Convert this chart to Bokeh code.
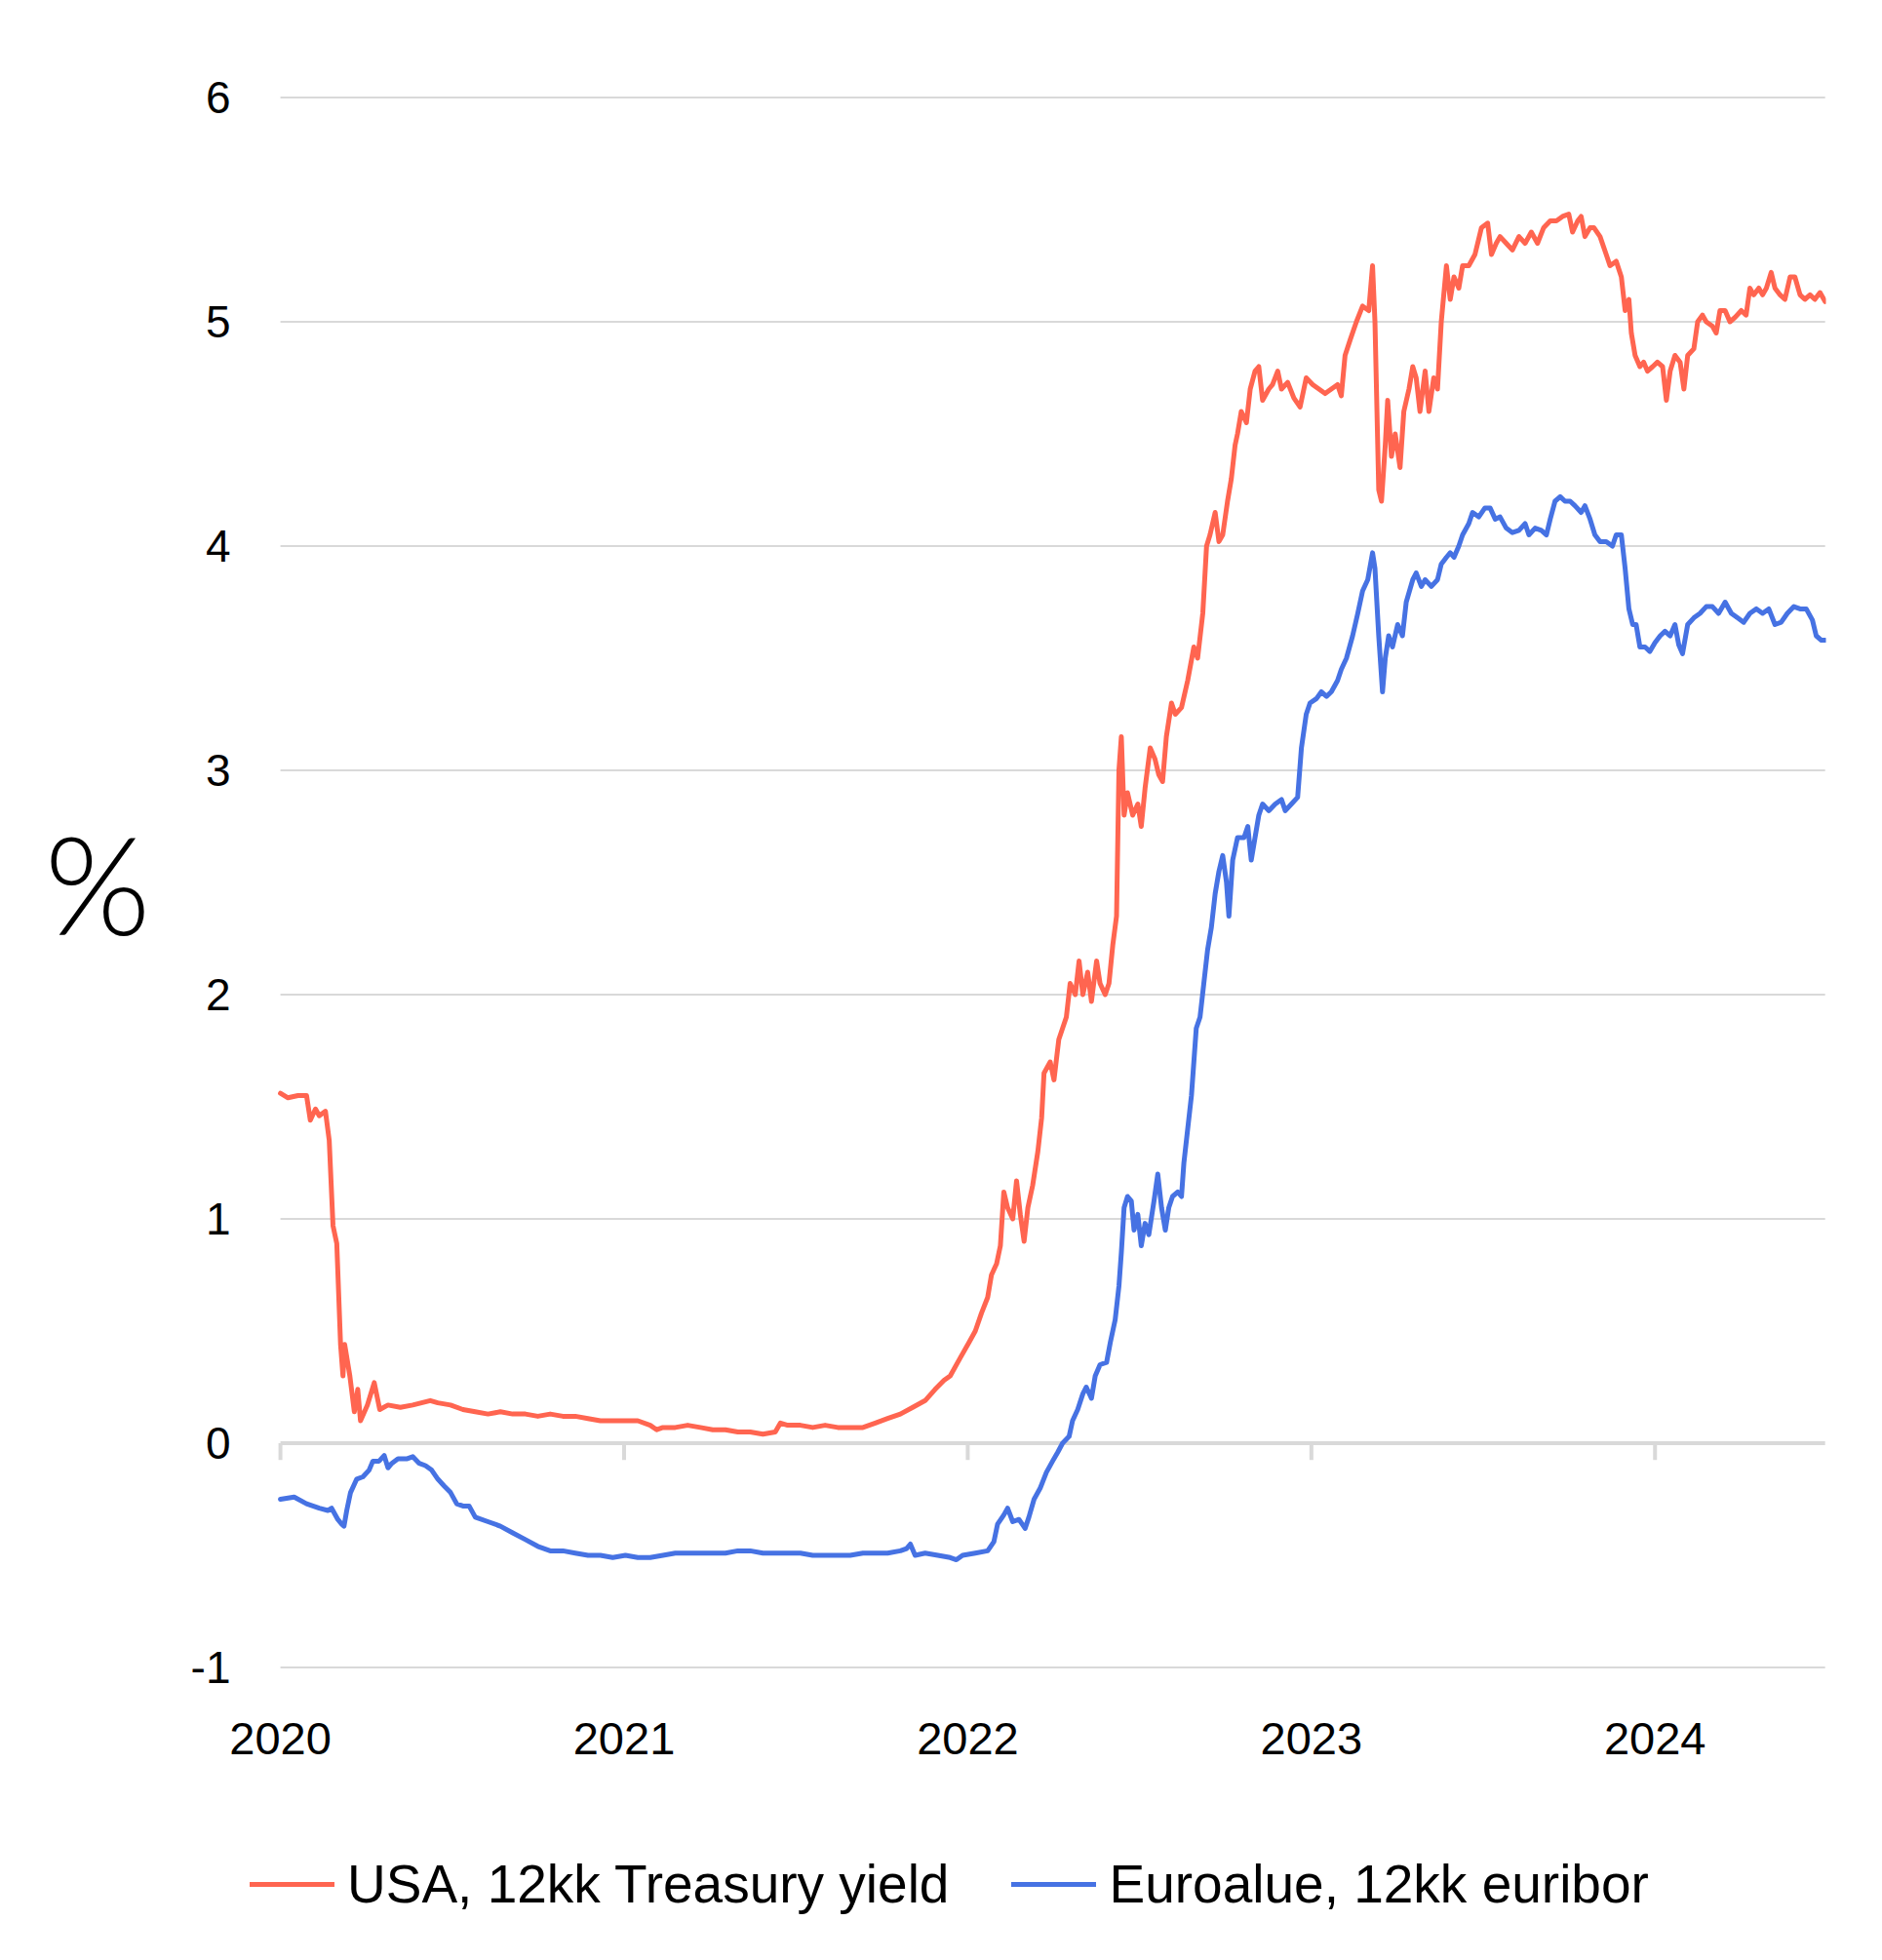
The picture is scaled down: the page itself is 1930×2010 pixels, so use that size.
from bokeh.plotting import figure
from bokeh.layouts import column
from bokeh.models import Range1d, FixedTicker, Legend, LegendItem
from bokeh.embed import file_html
from bokeh.resources import INLINE

# ---------------- data ----------------
usa_t = [
    2020.000, 2020.022, 2020.051, 2020.076, 2020.087, 2020.102, 2020.113, 2020.131, 2020.142, 2020.153,
    2020.164, 2020.175, 2020.182, 2020.187, 2020.202, 2020.215, 2020.225, 2020.233, 2020.253, 2020.273,
    2020.289, 2020.313, 2020.349, 2020.385, 2020.436, 2020.458, 2020.495, 2020.531, 2020.567, 2020.604,
    2020.640, 2020.676, 2020.713, 2020.749, 2020.785, 2020.822, 2020.858, 2020.895, 2020.931, 2020.967,
    2021.004, 2021.040, 2021.076, 2021.095, 2021.113, 2021.149, 2021.185, 2021.222, 2021.258, 2021.295,
    2021.331, 2021.367, 2021.404, 2021.440, 2021.455, 2021.476, 2021.513, 2021.549, 2021.585, 2021.622,
    2021.658, 2021.695, 2021.731, 2021.767, 2021.804, 2021.840, 2021.876, 2021.905, 2021.931, 2021.949,
    2021.978, 2022.004, 2022.022, 2022.040, 2022.058, 2022.069, 2022.084, 2022.095, 2022.105, 2022.116,
    2022.131, 2022.142, 2022.153, 2022.164, 2022.175, 2022.189, 2022.204, 2022.215, 2022.222, 2022.240,
    2022.251, 2022.265, 2022.276, 2022.287, 2022.298, 2022.313, 2022.324, 2022.335, 2022.349, 2022.360,
    2022.375, 2022.385, 2022.400, 2022.411, 2022.422, 2022.433, 2022.440, 2022.447, 2022.455, 2022.465,
    2022.480, 2022.495, 2022.505, 2022.516, 2022.531, 2022.545, 2022.556, 2022.567, 2022.578, 2022.593,
    2022.604, 2022.622, 2022.640, 2022.658, 2022.669, 2022.684, 2022.695, 2022.705, 2022.720, 2022.731,
    2022.742, 2022.756, 2022.767, 2022.778, 2022.785, 2022.796, 2022.811, 2022.822, 2022.836, 2022.847,
    2022.858, 2022.876, 2022.887, 2022.902, 2022.913, 2022.931, 2022.949, 2022.967, 2022.985, 2023.004,
    2023.022, 2023.040, 2023.058, 2023.076, 2023.087, 2023.098, 2023.113, 2023.131, 2023.149, 2023.167,
    2023.178, 2023.185, 2023.196, 2023.204, 2023.215, 2023.222, 2023.233, 2023.244, 2023.258, 2023.269,
    2023.284, 2023.295, 2023.305, 2023.316, 2023.331, 2023.342, 2023.356, 2023.367, 2023.378, 2023.393,
    2023.404, 2023.415, 2023.429, 2023.440, 2023.458, 2023.476, 2023.495, 2023.513, 2023.524, 2023.538,
    2023.549, 2023.567, 2023.585, 2023.604, 2023.622, 2023.640, 2023.658, 2023.676, 2023.695, 2023.713,
    2023.731, 2023.749, 2023.760, 2023.775, 2023.785, 2023.796, 2023.811, 2023.822, 2023.840, 2023.858,
    2023.869, 2023.887, 2023.902, 2023.913, 2023.924, 2023.931, 2023.942, 2023.956, 2023.967, 2023.978,
    2023.993, 2024.007, 2024.022, 2024.033, 2024.044, 2024.058, 2024.073, 2024.084, 2024.095, 2024.113,
    2024.124, 2024.138, 2024.149, 2024.167, 2024.178, 2024.189, 2024.204, 2024.218, 2024.233, 2024.251,
    2024.265, 2024.276, 2024.287, 2024.302, 2024.313, 2024.324, 2024.338, 2024.349, 2024.364, 2024.378,
    2024.393, 2024.407, 2024.422, 2024.436, 2024.451, 2024.465, 2024.480, 2024.495,
]
usa_v = [
    1.56, 1.54, 1.55, 1.55, 1.44, 1.49, 1.46, 1.48, 1.35, 0.97,
    0.89, 0.44, 0.30, 0.44, 0.30, 0.14, 0.24, 0.10, 0.17, 0.27,
    0.15, 0.17, 0.16, 0.17, 0.19, 0.18, 0.17, 0.15, 0.14, 0.13,
    0.14, 0.13, 0.13, 0.12, 0.13, 0.12, 0.12, 0.11, 0.10, 0.10,
    0.10, 0.10, 0.08, 0.06, 0.07, 0.07, 0.08, 0.07, 0.06, 0.06,
    0.05, 0.05, 0.04, 0.05, 0.09, 0.08, 0.08, 0.07, 0.08, 0.07,
    0.07, 0.07, 0.09, 0.11, 0.13, 0.16, 0.19, 0.24, 0.28, 0.30,
    0.38, 0.45, 0.50, 0.58, 0.65, 0.75, 0.80, 0.88, 1.12, 1.05,
    1.00, 1.17, 1.02, 0.90, 1.05, 1.15, 1.30, 1.45, 1.65, 1.70,
    1.62, 1.80, 1.85, 1.90, 2.05, 2.00, 2.15, 2.00, 2.10, 1.97,
    2.15, 2.05, 2.00, 2.05, 2.22, 2.35, 3.00, 3.15, 2.80, 2.90,
    2.80, 2.85, 2.75, 2.92, 3.10, 3.05, 2.98, 2.95, 3.15, 3.30,
    3.25, 3.28, 3.40, 3.55, 3.50, 3.70, 4.00, 4.05, 4.15, 4.02,
    4.05, 4.20, 4.30, 4.45, 4.50, 4.60, 4.55, 4.70, 4.78, 4.80,
    4.65, 4.70, 4.72, 4.78, 4.70, 4.73, 4.66, 4.62, 4.75, 4.72,
    4.70, 4.68, 4.70, 4.72, 4.67, 4.85, 4.92, 5.00, 5.07, 5.05,
    5.25, 5.00, 4.25, 4.20, 4.45, 4.65, 4.40, 4.50, 4.35, 4.60,
    4.70, 4.80, 4.75, 4.60, 4.78, 4.60, 4.75, 4.70, 5.00, 5.25,
    5.10, 5.20, 5.15, 5.25, 5.25, 5.30, 5.42, 5.44, 5.30, 5.35,
    5.38, 5.35, 5.32, 5.38, 5.35, 5.40, 5.35, 5.42, 5.45, 5.45,
    5.47, 5.48, 5.40, 5.45, 5.47, 5.38, 5.42, 5.42, 5.38, 5.30,
    5.25, 5.27, 5.20, 5.05, 5.10, 4.95, 4.85, 4.80, 4.82, 4.78,
    4.80, 4.82, 4.80, 4.65, 4.78, 4.85, 4.82, 4.70, 4.85, 4.88,
    5.00, 5.03, 5.00, 4.98, 4.95, 5.05, 5.05, 5.00, 5.02, 5.05,
    5.03, 5.15, 5.12, 5.15, 5.12, 5.15, 5.22, 5.15, 5.12, 5.10,
    5.20, 5.20, 5.12, 5.10, 5.12, 5.10, 5.13, 5.09,
]

euro_t = [
    2020.000, 2020.040, 2020.076, 2020.113, 2020.138, 2020.149, 2020.167, 2020.178, 2020.185, 2020.193,
    2020.204, 2020.222, 2020.240, 2020.258, 2020.269, 2020.287, 2020.302, 2020.313, 2020.324, 2020.342,
    2020.367, 2020.385, 2020.404, 2020.422, 2020.440, 2020.458, 2020.476, 2020.495, 2020.513, 2020.531,
    2020.549, 2020.567, 2020.604, 2020.640, 2020.676, 2020.713, 2020.749, 2020.785, 2020.822, 2020.858,
    2020.895, 2020.931, 2020.967, 2021.004, 2021.040, 2021.076, 2021.113, 2021.149, 2021.185, 2021.222,
    2021.258, 2021.295, 2021.331, 2021.367, 2021.404, 2021.440, 2021.476, 2021.513, 2021.549, 2021.585,
    2021.622, 2021.658, 2021.695, 2021.731, 2021.767, 2021.804, 2021.822, 2021.833, 2021.847, 2021.876,
    2021.913, 2021.949, 2021.967, 2021.985, 2022.022, 2022.058, 2022.076, 2022.087, 2022.105, 2022.116,
    2022.131, 2022.149, 2022.167, 2022.178, 2022.193, 2022.211, 2022.229, 2022.247, 2022.262, 2022.276,
    2022.295, 2022.305, 2022.320, 2022.335, 2022.345, 2022.360, 2022.371, 2022.385, 2022.404, 2022.415,
    2022.429, 2022.440, 2022.447, 2022.455, 2022.465, 2022.476, 2022.484, 2022.495, 2022.505, 2022.516,
    2022.527, 2022.542, 2022.553, 2022.564, 2022.575, 2022.585, 2022.596, 2022.611, 2022.622, 2022.629,
    2022.640, 2022.651, 2022.665, 2022.676, 2022.687, 2022.698, 2022.709, 2022.720, 2022.731, 2022.742,
    2022.753, 2022.760, 2022.771, 2022.785, 2022.804, 2022.815, 2022.825, 2022.836, 2022.847, 2022.858,
    2022.876, 2022.895, 2022.913, 2022.924, 2022.942, 2022.960, 2022.971, 2022.985, 2022.996, 2023.015,
    2023.029, 2023.044, 2023.058, 2023.076, 2023.087, 2023.102, 2023.120, 2023.135, 2023.149, 2023.164,
    2023.178, 2023.185, 2023.196, 2023.207, 2023.215, 2023.225, 2023.236, 2023.251, 2023.265, 2023.276,
    2023.295, 2023.305, 2023.320, 2023.331, 2023.349, 2023.367, 2023.378, 2023.393, 2023.404, 2023.415,
    2023.429, 2023.440, 2023.458, 2023.469, 2023.487, 2023.505, 2023.520, 2023.535, 2023.549, 2023.567,
    2023.585, 2023.604, 2023.622, 2023.633, 2023.651, 2023.669, 2023.684, 2023.695, 2023.709, 2023.724,
    2023.738, 2023.753, 2023.767, 2023.785, 2023.796, 2023.811, 2023.825, 2023.840, 2023.858, 2023.876,
    2023.887, 2023.902, 2023.913, 2023.924, 2023.935, 2023.945, 2023.956, 2023.971, 2023.985, 2024.000,
    2024.015, 2024.029, 2024.044, 2024.058, 2024.069, 2024.080, 2024.095, 2024.113, 2024.131, 2024.149,
    2024.167, 2024.185, 2024.204, 2024.222, 2024.240, 2024.258, 2024.276, 2024.295, 2024.313, 2024.331,
    2024.349, 2024.367, 2024.385, 2024.404, 2024.422, 2024.440, 2024.458, 2024.469, 2024.484, 2024.495,
]
euro_v = [
    -0.25, -0.24, -0.27, -0.29, -0.30, -0.29, -0.34, -0.36, -0.37, -0.30,
    -0.22, -0.16, -0.15, -0.12, -0.08, -0.08, -0.055, -0.11, -0.09, -0.07,
    -0.07, -0.06, -0.09, -0.10, -0.12, -0.16, -0.19, -0.22, -0.27, -0.28,
    -0.28, -0.33, -0.35, -0.37, -0.40, -0.43, -0.46, -0.48, -0.48, -0.49,
    -0.50, -0.50, -0.51, -0.50, -0.51, -0.51, -0.50, -0.49, -0.49, -0.49,
    -0.49, -0.49, -0.48, -0.48, -0.49, -0.49, -0.49, -0.49, -0.50, -0.50,
    -0.50, -0.50, -0.49, -0.49, -0.49, -0.48, -0.47, -0.45, -0.50, -0.49,
    -0.50, -0.51, -0.52, -0.50, -0.49, -0.48, -0.44, -0.36, -0.32, -0.29,
    -0.35, -0.34, -0.38, -0.33, -0.25, -0.20, -0.13, -0.08, -0.04, 0.00,
    0.03, 0.10, 0.15, 0.22, 0.25, 0.20, 0.30, 0.35, 0.36, 0.45,
    0.55, 0.70, 0.85, 1.05, 1.10, 1.08, 0.95, 1.02, 0.88, 0.98,
    0.93, 1.08, 1.20, 1.05, 0.95, 1.05, 1.10, 1.12, 1.10, 1.25,
    1.40, 1.55, 1.85, 1.90, 2.05, 2.20, 2.30, 2.45, 2.55, 2.62,
    2.50, 2.35, 2.60, 2.70, 2.70, 2.75, 2.60, 2.70, 2.80, 2.85,
    2.82, 2.85, 2.87, 2.82, 2.85, 2.88, 3.10, 3.25, 3.30, 3.32,
    3.35, 3.33, 3.35, 3.40, 3.45, 3.50, 3.60, 3.70, 3.80, 3.85,
    3.97, 3.90, 3.60, 3.35, 3.50, 3.60, 3.55, 3.65, 3.60, 3.75,
    3.85, 3.88, 3.82, 3.85, 3.82, 3.85, 3.92, 3.95, 3.97, 3.95,
    4.00, 4.05, 4.10, 4.15, 4.13, 4.17, 4.17, 4.12, 4.13, 4.08,
    4.06, 4.07, 4.10, 4.05, 4.08, 4.07, 4.05, 4.12, 4.20, 4.22,
    4.20, 4.20, 4.18, 4.15, 4.18, 4.12, 4.05, 4.02, 4.02, 4.00,
    4.05, 4.05, 3.90, 3.72, 3.65, 3.65, 3.55, 3.55, 3.53, 3.57,
    3.60, 3.62, 3.60, 3.65, 3.56, 3.52, 3.65, 3.68, 3.70, 3.73,
    3.73, 3.70, 3.75, 3.70, 3.68, 3.66, 3.70, 3.72, 3.70, 3.72,
    3.65, 3.66, 3.70, 3.73, 3.72, 3.72, 3.67, 3.60, 3.58, 3.58,
]

year_ticks = [2020, 2021, 2022, 2023, 2024]
year_labels = ["2020", "2021", "2022", "2023", "2024"]
y_ticks = [-1, 0, 1, 2, 3, 4, 5, 6]
y_labels = ["-1", "0", "1", "2", "3", "4", "5", "6"]
series_names = ["USA, 12kk Treasury yield", "Euroalue, 12kk euribor"]

# ---------------- style ----------------
RED = "#FF6550"
BLUE = "#4672E3"
GRID = "#D9D9D9"
FONT = "Liberation Sans"
TXT = "#000000"
LW = 5

X_START = 2020.0
X_END = usa_t[-1]
TICK_LEN = 0.075

MAIN_H = 1850
p = figure(
    width=1930, height=MAIN_H,
    output_backend="svg", toolbar_location=None,
    x_range=Range1d(2019.9118, 2024.4973),
    y_range=Range1d(-1.05, 6.05),
    min_border_left=256, min_border_right=58,
    min_border_top=88, min_border_bottom=MAIN_H - 1721,
)
p.outline_line_color = None
p.xgrid.visible = False
p.ygrid.visible = False
p.background_fill_color = "white"
p.border_fill_color = "white"

# grid lines (drawn from tick values)
gy = [v for v in y_ticks if v != 0]
p.segment(x0=[X_START] * len(gy), y0=gy, x1=[X_END] * len(gy), y1=gy,
          line_color=GRID, line_width=2)
p.segment(x0=[X_START], y0=[0], x1=[X_END], y1=[0], line_color=GRID, line_width=4)
p.segment(x0=year_ticks, y0=[0] * len(year_ticks), x1=year_ticks,
          y1=[-TICK_LEN] * len(year_ticks), line_color=GRID, line_width=4)

p.line(usa_t, usa_v, line_color=RED, line_width=LW,
       line_join="round", line_cap="round")
p.line(euro_t, euro_v, line_color=BLUE, line_width=LW,
       line_join="round", line_cap="round")

# x axis (labels only)
xa = p.xaxis[0]
xa.ticker = FixedTicker(ticks=year_ticks)
xa.major_label_overrides = {t: l for t, l in zip(year_ticks, year_labels)}
xa.axis_line_color = None
xa.major_tick_line_color = None
xa.minor_tick_line_color = None
xa.major_tick_out = 0
xa.major_tick_in = 0
xa.major_label_standoff = 45
xa.major_label_text_font = FONT
xa.major_label_text_font_size = "47px"
xa.major_label_text_color = TXT

# y axis
ya = p.yaxis[0]
ya.ticker = FixedTicker(ticks=y_ticks)
ya.major_label_overrides = {t: l for t, l in zip(y_ticks, y_labels)}
ya.axis_line_color = None
ya.major_tick_line_color = None
ya.minor_tick_line_color = None
ya.major_tick_out = 0
ya.major_tick_in = 0
ya.major_label_standoff = 20
ya.major_label_text_font = FONT
ya.major_label_text_font_size = "46px"
ya.major_label_text_color = TXT
ya.axis_label = "%"
ya.axis_label_text_font = "Lato Light"
ya.axis_label_text_font_size = "140px"
ya.axis_label_text_font_style = "normal"
ya.axis_label_text_color = TXT
ya.axis_label_standoff = 38
try:
    ya.axis_label_orientation = "horizontal"
except Exception:
    pass

# ---------------- legend strip ----------------
LEG_H = 2010 - MAIN_H
pl = figure(
    width=1930, height=LEG_H,
    output_backend="svg", toolbar_location=None,
    x_axis_location=None, y_axis_location=None,
    x_range=Range1d(0, 1), y_range=Range1d(0, 1),
    min_border=0,
)
pl.outline_line_color = None
pl.background_fill_color = "white"
pl.border_fill_color = "white"
for g in pl.grid:
    g.visible = False

# swatch renderers: same series, outside this strip's visible range
k_usa = pl.line(usa_t, usa_v, line_color=RED, line_width=LW, line_cap="round")
k_eur = pl.line(euro_t, euro_v, line_color=BLUE, line_width=LW, line_cap="round")

legend = Legend(
    items=[LegendItem(label=series_names[0], renderers=[k_usa]),
           LegendItem(label=series_names[1], renderers=[k_eur])],
    orientation="horizontal",
    location=(0, 46),
    glyph_width=87, glyph_height=20,
    label_standoff=13, spacing=64,
    padding=0, margin=0,
    border_line_color=None,
    background_fill_alpha=0,
    label_text_font=FONT,
    label_text_font_size="55px",
    label_text_color=TXT,
)
pl.add_layout(legend)

layout = column(p, pl, spacing=0)
open("out.html", "w").write(file_html(layout, INLINE))
